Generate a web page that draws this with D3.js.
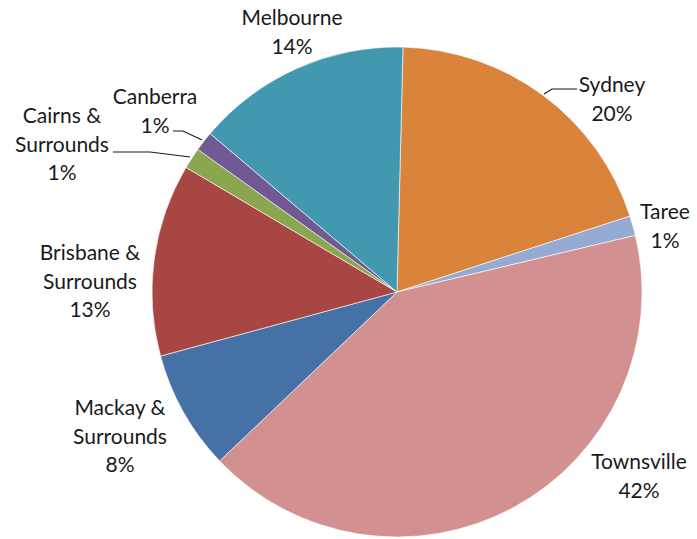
<!DOCTYPE html>
<html>
<head>
<meta charset="utf-8">
<script src="https://cdn.jsdelivr.net/npm/d3@7"></script>
<style>
  html, body { margin: 0; padding: 0; background: #fff; }
  svg { display: block; }
</style>
</head>
<body>
<svg id="chart" width="697" height="539"></svg>
<script>
// slices, clockwise from 12 o'clock
const regions = ["Sydney", "Taree", "Townsville", "Mackay & Surrounds",
  "Brisbane & Surrounds", "Cairns & Surrounds", "Canberra", "Melbourne"];
const shares = [19.6, 1.3, 41.6, 7.9, 12.7, 1.4, 1.3, 14.2];
const colours = ["#d9833b", "#95abd4", "#d29091", "#4571a6",
  "#a84644", "#8aa64f", "#715a93", "#4298af"];

// label lines as Excel wrapped them
const labelLines = [
  ["Sydney"], ["Taree"], ["Townsville"], ["Mackay &", "Surrounds"],
  ["Brisbane &", "Surrounds"], ["Cairns &", "Surrounds"], ["Canberra"], ["Melbourne"]
];

// layout (not data)
const cx = 397, cy = 292, r = 245;
const rot = 1.4 * Math.PI / 180;
const lineH = 28.5;
const labelAt = [[612, 85], [665, 212], [639, 462], [120, 408],
  [90, 253], [62, 116], [155, 97], [292, 18]];
// leader lines: [slice index, points]
const leaders = [
  [0, [[544, 94], [552, 89], [577, 89]]],
  [6, [[173, 131], [183, 131], [202, 140]]],
  [5, [[113, 152], [150, 152], [190, 157]]]
];

const svg = d3.select("#chart");

const pie = d3.pie().sort(null).value(d => d)
  .startAngle(rot).endAngle(rot + 2 * Math.PI);
const arc = d3.arc().innerRadius(0).outerRadius(r);

const g = svg.append("g").attr("transform", `translate(${cx},${cy})`);
g.selectAll("path")
  .data(pie(shares))
  .join("path")
  .attr("d", arc)
  .attr("fill", (d, i) => colours[i])
  .attr("stroke", "#fff")
  .attr("stroke-width", 0.6);

const line = d3.line();
svg.selectAll("path.leader")
  .data(leaders)
  .join("path")
  .attr("class", "leader")
  .attr("d", d => line(d[1]))
  .attr("fill", "none")
  .attr("stroke", "#1a1a1a")
  .attr("stroke-width", 1.2);

const labels = svg.selectAll("text.lbl")
  .data(regions)
  .join("text")
  .attr("class", "lbl")
  .attr("text-anchor", "middle")
  .attr("font-family", "Lato, 'Open Sans', sans-serif")
  .attr("font-size", 21)
  .attr("fill", "#1a1a1a")
  .attr("x", (d, i) => labelAt[i][0])
  .attr("y", (d, i) => labelAt[i][1]);

labels.each(function (d, i) {
  const t = d3.select(this);
  const rows = labelLines[i].concat([Math.round(shares[i]) + "%"]);
  rows.forEach((s, k) => {
    t.append("tspan")
      .attr("x", labelAt[i][0])
      .attr("dy", k === 0 ? "0.35em" : lineH)
      .text(s);
  });
});
</script>
</body>
</html>
